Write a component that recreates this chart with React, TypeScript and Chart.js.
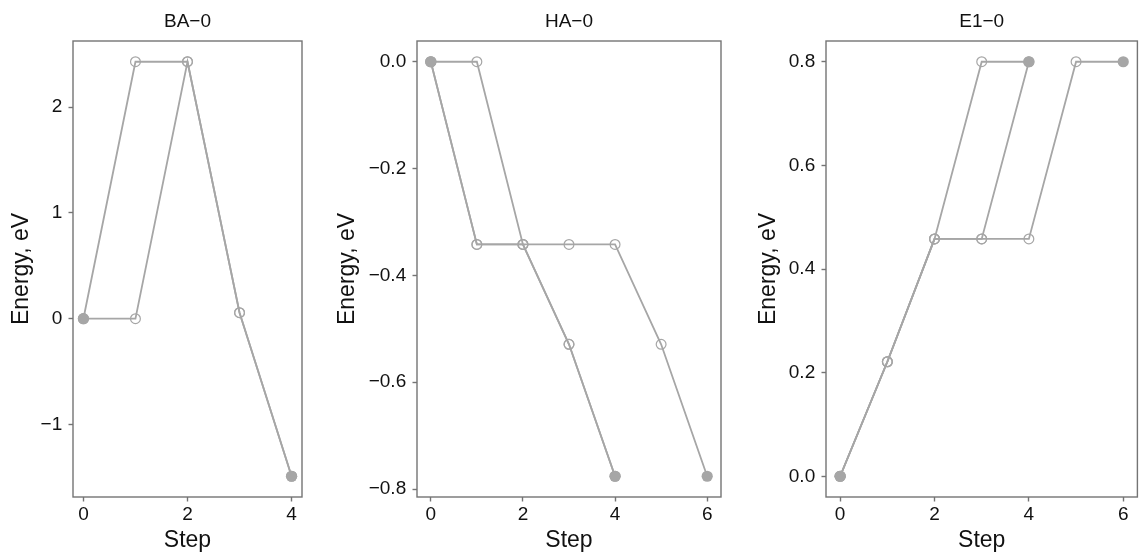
import React, { useEffect, useRef } from "react";
import { Chart, registerables } from "chart.js";

Chart.register(...registerables);

const FONT = "'Liberation Sans', Arial, Helvetica, sans-serif";
const GRAY = "#a6a6a6";
const FRAME = "#747474";
const TEXT = "#111111";

// ---- BA-0 ----
const baSteps = [0, 1, 2, 3, 4];
const baPathA = [0, 0, 2.43, 0.057, -1.49];
const baPathB = [0, 2.43, 2.43, 0.057, -1.49];
const baXTicks = [0, 2, 4];
const baYTicks = [-1, 0, 1, 2];
const baYTickLabels = ["\u22121", "0", "1", "2"];

// ---- HA-0 ----
const haStepsShort = [0, 1, 2, 3, 4];
const haStepsLong = [0, 1, 2, 3, 4, 5, 6];
const haPathA = [0, 0, -0.342, -0.529, -0.776];
const haPathB = [0, -0.342, -0.342, -0.529, -0.776];
const haPathC = [0, -0.342, -0.342, -0.342, -0.342, -0.529, -0.776];
const haXTicks = [0, 2, 4, 6];
const haYTicks = [-0.8, -0.6, -0.4, -0.2, 0];
const haYTickLabels = ["\u22120.8", "\u22120.6", "\u22120.4", "\u22120.2", "0.0"];

// ---- E1-0 ----
const e1StepsShort = [0, 1, 2, 3, 4];
const e1StepsLong = [0, 1, 2, 3, 4, 5, 6];
const e1PathA = [0, 0.221, 0.458, 0.8, 0.8];
const e1PathB = [0, 0.221, 0.458, 0.458, 0.8];
const e1PathC = [0, 0.221, 0.458, 0.458, 0.458, 0.8, 0.8];
const e1XTicks = [0, 2, 4, 6];
const e1YTicks = [0, 0.2, 0.4, 0.6, 0.8];
const e1YTickLabels = ["0.0", "0.2", "0.4", "0.6", "0.8"];

const xTitle = "Step";
const yTitle = "Energy, eV";

type Path = { steps: number[]; values: number[] };
type Panel = {
  title: string;
  paths: Path[];
  xTicks: number[];
  yTicks: number[];
  yTickLabels: string[];
  left: number;
  width: number;
  yAxisWidth: number;
  padRight: number;
};

const panels: Panel[] = [
  {
    title: "BA\u22120",
    paths: [
      { steps: baSteps, values: baPathA },
      { steps: baSteps, values: baPathB },
    ],
    xTicks: baXTicks,
    yTicks: baYTicks,
    yTickLabels: baYTickLabels,
    left: 0,
    width: 330,
    yAxisWidth: 73,
    padRight: 28,
  },
  {
    title: "HA\u22120",
    paths: [
      { steps: haStepsShort, values: haPathA },
      { steps: haStepsShort, values: haPathB },
      { steps: haStepsLong, values: haPathC },
    ],
    xTicks: haXTicks,
    yTicks: haYTicks,
    yTickLabels: haYTickLabels,
    left: 326,
    width: 414,
    yAxisWidth: 91,
    padRight: 19,
  },
  {
    title: "E1\u22120",
    paths: [
      { steps: e1StepsShort, values: e1PathA },
      { steps: e1StepsShort, values: e1PathB },
      { steps: e1StepsLong, values: e1PathC },
    ],
    xTicks: e1XTicks,
    yTicks: e1YTicks,
    yTickLabels: e1YTickLabels,
    left: 747,
    width: 396,
    yAxisWidth: 79,
    padRight: 2,
  },
];

const framePlugin = {
  id: "frame",
  afterDraw(chart: any) {
    const { ctx, chartArea } = chart;
    ctx.save();
    ctx.strokeStyle = FRAME;
    ctx.lineWidth = 1.4;
    ctx.strokeRect(chartArea.left, chartArea.top, chartArea.right - chartArea.left, chartArea.bottom - chartArea.top);
    ctx.restore();
  },
};

function isEnd(c: any) {
  const n = c.dataset.data.length;
  return c.dataIndex === 0 || c.dataIndex === n - 1;
}

function PanelChart({ p }: { p: Panel }) {
  const ref = useRef<HTMLCanvasElement | null>(null);
  useEffect(() => {
    if (!ref.current) return;
    const allSteps = p.paths.flatMap((q) => q.steps);
    const allVals = p.paths.flatMap((q) => q.values);
    const xMin = Math.min(...allSteps);
    const xMax = Math.max(...allSteps);
    const yMin = Math.min(...allVals);
    const yMax = Math.max(...allVals);
    const xPad = (xMax - xMin) * 0.05;
    const yPad = (yMax - yMin) * 0.05;

    const chart = new Chart(ref.current, {
      type: "line",
      data: {
        datasets: p.paths.map((q) => ({
          data: q.steps.map((s, i) => ({ x: s, y: q.values[i] })),
          borderColor: GRAY,
          borderWidth: 1.8,
          tension: 0,
          fill: false,
          pointRadius: (c: any) => (isEnd(c) ? 5.6 : 4.9),
          pointBorderWidth: (c: any) => (isEnd(c) ? 0 : 1.2),
          pointBackgroundColor: (c: any) => (isEnd(c) ? GRAY : "rgba(0,0,0,0)"),
          pointBorderColor: GRAY,
          clip: false as any,
        })),
      },
      options: {
        animation: false,
        responsive: false,
        devicePixelRatio: 1,
        events: [],
        layout: { padding: { top: 0, right: p.padRight, bottom: 0, left: 0 } },
        plugins: {
          legend: { display: false },
          tooltip: { enabled: false },
          title: {
            display: true,
            text: p.title,
            fullSize: false,
            color: TEXT,
            font: { family: FONT, size: 19, weight: "normal", lineHeight: 1.2 },
            padding: { top: 10.5, bottom: 7.7 },
          },
        },
        scales: {
          x: {
            type: "linear",
            position: "bottom",
            min: xMin - xPad,
            max: xMax + xPad,
            afterBuildTicks: (s: any) => {
              s.ticks = p.xTicks.map((v) => ({ value: v }));
            },
            afterFit: (s: any) => {
              s.height = 55;
            },
            grid: {
              display: true,
              drawOnChartArea: false,
              drawTicks: true,
              tickLength: 4.5,
              tickColor: FRAME,
              tickWidth: 1.4,
            },
            border: { display: false },
            ticks: {
              color: TEXT,
              padding: 2,
              maxRotation: 0,
              autoSkip: false,
              font: { family: FONT, size: 19, lineHeight: 1.2 },
              callback: (v: any) => String(v),
            },
            title: {
              display: true,
              text: xTitle,
              color: TEXT,
              font: { family: FONT, size: 23, lineHeight: 1 },
              padding: { top: 0, bottom: 0.3 },
            },
          },
          y: {
            type: "linear",
            position: "left",
            min: yMin - yPad,
            max: yMax + yPad,
            afterBuildTicks: (s: any) => {
              s.ticks = p.yTicks.map((v) => ({ value: v }));
            },
            afterFit: (s: any) => {
              s.width = p.yAxisWidth;
            },
            grid: {
              display: true,
              drawOnChartArea: false,
              drawTicks: true,
              tickLength: 4.5,
              tickColor: FRAME,
              tickWidth: 1.4,
            },
            border: { display: false },
            ticks: {
              color: TEXT,
              padding: 6.3,
              autoSkip: false,
              font: { family: FONT, size: 19, lineHeight: 1.2 },
              callback: (v: any) => {
                const idx = p.yTicks.findIndex((t) => Math.abs(t - v) < 1e-9);
                return idx >= 0 ? p.yTickLabels[idx] : "";
              },
            },
            title: {
              display: true,
              text: yTitle,
              color: TEXT,
              font: { family: FONT, size: 23, lineHeight: 1.2 },
              padding: { top: 8.2, bottom: 0 },
            },
          },
        },
      } as any,
      plugins: [framePlugin],
    });
    return () => chart.destroy();
  }, [p]);

  return (
    <div style={{ position: "absolute", left: p.left, top: 0, width: p.width, height: 552 }}>
      <canvas ref={ref} width={p.width} height={552} style={{ display: "block" }} />
    </div>
  );
}

export default function App() {
  return (
    <div style={{ position: "absolute", left: 0, top: 0, width: 1143, height: 552, background: "#ffffff", overflow: "hidden" }}>
      {panels.map((p, i) => (
        <PanelChart key={i} p={p} />
      ))}
    </div>
  );
}
